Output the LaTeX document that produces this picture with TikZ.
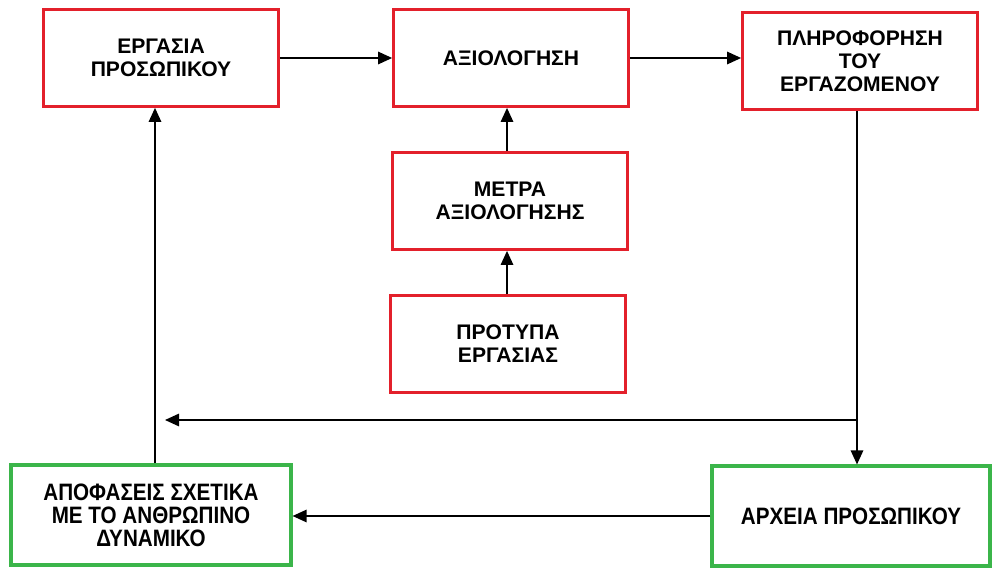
\documentclass[tikz,border=0pt]{standalone}
\usepackage{fontspec}
\setmainfont{Liberation Sans}
\newfontfamily\narrowsans[FakeStretch=0.87]{Liberation Sans}
\usepackage{tikz}
\usetikzlibrary{arrows.meta,positioning,calc}
\definecolor{BoxRed}{HTML}{E3202B}
\definecolor{BoxGreen}{HTML}{3BB54A}

\begin{document}
\begin{tikzpicture}[every node/.style={font=\bfseries\fontsize{12}{13}\selectfont},
  redbox/.style={draw=BoxRed,line width=1.6pt,align=center,minimum width=4.7cm,minimum height=1.94cm},
  greenbox/.style={draw=BoxGreen,line width=1.8pt,align=center,minimum width=5.6cm,minimum height=2.0cm,
    font=\narrowsans\bfseries\fontsize{13.5}{13}\selectfont},
  arr/.style={line width=0.8pt,-{Triangle[length=0.28cm,width=0.25cm]}}]
  \useasboundingbox (0,0) rectangle (19.92,-11.38);
  \node[redbox] (erg) at (3.22,-1.16) {ΕΡΓΑΣΙΑ\\ΠΡΟΣΩΠΙΚΟΥ};
  \node[redbox] (axi) at (10.22,-1.16) {ΑΞΙΟΛΟΓΗΣΗ};
  \node[redbox] (plir) at (17.2,-1.22) {ΠΛΗΡΟΦΟΡΗΣΗ\\ΤΟΥ\\ΕΡΓΑΖΟΜΕΝΟΥ};
  \node[redbox] (metra) at (10.2,-4.02) {ΜΕΤΡΑ\\ΑΞΙΟΛΟΓΗΣΗΣ};
  \node[redbox] (prot) at (10.16,-6.88) {ΠΡΟΤΥΠΑ\\ΕΡΓΑΣΙΑΣ};
  \node[greenbox] (apof) at (3.02,-10.3) {ΑΠΟΦΑΣΕΙΣ ΣΧΕΤΙΚΑ\\ΜΕ ΤΟ ΑΝΘΡΩΠΙΝΟ\\ΔΥΝΑΜΙΚΟ};
  \node[greenbox,minimum width=5.56cm] (arx) at (17.02,-10.32) {ΑΡΧΕΙΑ ΠΡΟΣΩΠΙΚΟΥ};
  \coordinate (split) at (17.14,-8.4);
  \coordinate (back) at (3.3,-8.4);
  \draw[arr] (erg.east) -- (axi.west);
  \draw[arr] (axi.east) -- (axi.east -| plir.west);
  \draw[arr] (metra.north -| 10.14,0) -- (axi.south -| 10.14,0);
  \draw[arr] (prot.north -| 10.14,0) -- (metra.south -| 10.14,0);
  \draw[arr] (plir.south -| split) -- (arx.north -| split);
  \draw[arr] (split) -- (back);
  \draw[arr] (apof.north -| 3.1,0) -- (erg.south -| 3.1,0);
  \draw[arr] (arx.west) -- (arx.west -| apof.east);
\end{tikzpicture}
\end{document}
